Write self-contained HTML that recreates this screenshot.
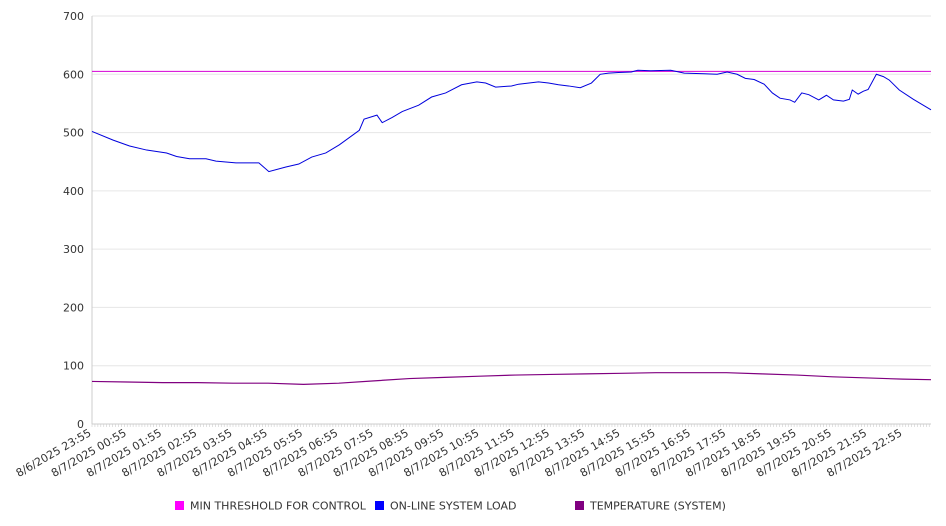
<!DOCTYPE html>
<html><head><meta charset="utf-8"><style>
html,body{margin:0;padding:0;background:#fff;}
svg{display:block;font-family:"DejaVu Sans","Liberation Sans",sans-serif;}
</style></head><body>
<svg id="chart" width="946" height="526"></svg>
<script>
const startLabelDay = "8/6/2025";
const hourLabels = ["8/6/2025 23:55","8/7/2025 00:55","8/7/2025 01:55","8/7/2025 02:55","8/7/2025 03:55","8/7/2025 04:55","8/7/2025 05:55","8/7/2025 06:55","8/7/2025 07:55","8/7/2025 08:55","8/7/2025 09:55","8/7/2025 10:55","8/7/2025 11:55","8/7/2025 12:55","8/7/2025 13:55","8/7/2025 14:55","8/7/2025 15:55","8/7/2025 16:55","8/7/2025 17:55","8/7/2025 18:55","8/7/2025 19:55","8/7/2025 20:55","8/7/2025 21:55","8/7/2025 22:55"];
const yTicks = [0,100,200,300,400,500,600,700];
const thresholdValue = 605;
const loadMinutes = [0,36,64,93,127,144,166,194,211,245,284,301,330,352,374,398,421,455,463,485,494,511,528,556,578,602,629,655,670,687,714,726,760,777,794,811,831,850,865,879,896,918,929,951,985,1008,1042,1064,1081,1098,1112,1127,1144,1158,1171,1188,1196,1208,1220,1237,1250,1262,1279,1289,1294,1304,1313,1321,1335,1347,1357,1374,1398,1428];
const loadValues = [502,487,477,470,465,459,455,455,451,448,448,433,441,446,458,465,479,504,523,530,517,526,536,547,561,568,582,587,585,578,580,583,587,585,582,580,577,585,600,602,603,604,607,606,607,602,601,600,604,600,593,591,583,568,559,556,552,568,565,556,564,556,554,557,573,566,571,574,600,596,590,573,557,539];
const tempMinutes = [0,60,120,180,240,300,360,420,480,540,600,660,720,780,840,900,960,1020,1080,1140,1200,1260,1320,1380,1428];
const tempValues = [73,72,71,71,70,70,68,70,74,78,80,82,84,85,86,87,88,88,88,86,84,81,79,77,76];

const NS="http://www.w3.org/2000/svg";
const svg=document.getElementById('chart');
const X0=92,X1=931,Y0=424,Y1=16,TMAX=1428,VMAX=700;
const xs=m=>X0+(m/TMAX)*(X1-X0);
const ys=v=>Y0-(v/VMAX)*(Y0-Y1);
function mk(tag,attrs){const e=document.createElementNS(NS,tag);for(const k in attrs)e.setAttribute(k,attrs[k]);svg.appendChild(e);return e;}

yTicks.forEach(v=>{
  const g=mk('line',{x1:X0,x2:X1,y1:ys(v),y2:ys(v),stroke:v===0?'#ccc':'#e6e6e6','stroke-width':1});
  
  
  const t=mk('text',{x:X0-8,y:ys(v)+4,'text-anchor':'end','font-size':11,fill:'#333'});
  t.textContent=v;
  
  
});
const ya=mk('line',{x1:X0,x2:X0,y1:Y1,y2:Y0,stroke:'#ccc'});


for(let m=0;m<=TMAX;m+=5){
  const tk=mk('line',{x1:xs(m),x2:xs(m),y1:Y0,y2:Y0+3,stroke:'#ccc','stroke-width':0.6});
  
  
}
hourLabels.forEach((lab,i)=>{
  const x=xs(i*60);
  const t=mk('text',{x:x,y:Y0+11,'text-anchor':'end','font-size':11,fill:'#333',transform:`rotate(-30 ${x} ${Y0+11})`});
  t.textContent=lab;
  
  
});
const th=mk('line',{x1:X0,x2:X1,y1:ys(thresholdValue),y2:ys(thresholdValue),stroke:'#d400d4','stroke-width':1});


const lp=mk('polyline',{points:loadMinutes.map((m,i)=>xs(m)+','+ys(loadValues[i])).join(' '),fill:'none',stroke:'#0000dd','stroke-width':1});


const tp=mk('polyline',{points:tempMinutes.map((m,i)=>xs(m)+','+ys(tempValues[i])).join(' '),fill:'none',stroke:'#800080','stroke-width':1.2});



const legend=[["MIN THRESHOLD FOR CONTROL","#ff00ff",175],["ON-LINE SYSTEM LOAD","#0000ff",375],["TEMPERATURE (SYSTEM)","#800080",575]];
legend.forEach(([txt,col,x])=>{
  const r=mk('rect',{x:x,y:501,width:9,height:9,fill:col});
  
  
  const t=mk('text',{x:x+15,y:509.5,'font-size':11,fill:'#333'});
  t.textContent=txt;
  
  
});
</script>
</body></html>
